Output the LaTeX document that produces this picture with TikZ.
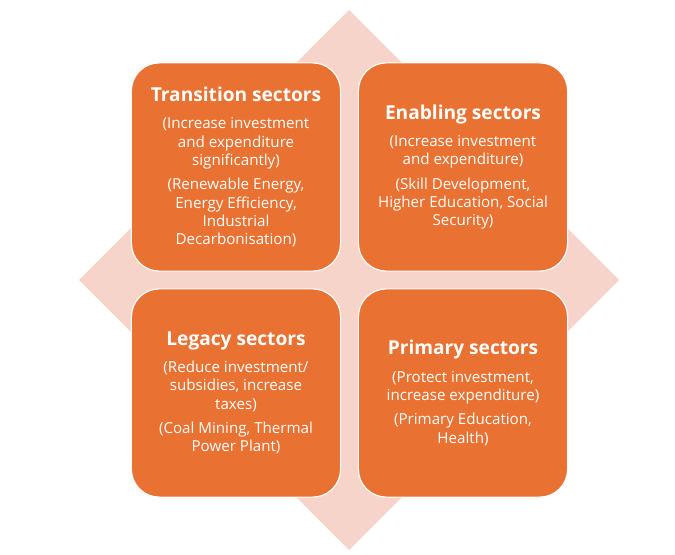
\documentclass[tikz,border=0pt]{standalone}
\usepackage{fontspec}
\setmainfont{Open Sans}
\usepackage{xcolor}
\usetikzlibrary{positioning}

\definecolor{sectororange}{HTML}{E97132}
\definecolor{diamondpink}{HTML}{F7D4C9}

\tikzset{
  sectorbox/.style={rectangle, rounded corners=28, fill=sectororange, draw=white,
    line width=1.2, minimum width=210, minimum height=209, inner sep=0pt,
    text=white, align=center, font=\fontsize{15.2}{18.4}\selectfont},
}
\newcommand{\sectortitle}[1]{{\bfseries\fontsize{19.2}{18.4}\selectfont #1}}

\begin{document}
\begin{tikzpicture}[x=1bp, y=-1bp]
    \useasboundingbox (0,0) rectangle (675,555);

    % 1. Hình thoi nền màu hồng nhạt
    \fill[diamondpink] (349,10) -- (619,280) -- (349,550) -- (79,280) -- cycle;

    % 2. Bốn ô nhóm ngành
    \node[sectorbox] (transition) at (236,167)
        {\sectortitle{Transition sectors}\\[9pt]
         (Increase investment\\ and expenditure\\ significantly)\\[6pt]
         (Renewable Energy,\\ Energy Efficiency,\\ Industrial\\ Decarbonisation)};
    \node[sectorbox] (enabling) at (463,167)
        {\sectortitle{Enabling sectors}\\[9pt]
         (Increase investment\\ and expenditure)\\[6pt]
         (Skill Development,\\ Higher Education, Social\\ Security)};
    \node[sectorbox] (legacy) at (236,393)
        {\sectortitle{Legacy sectors}\\[9pt]
         (Reduce investment/\\ subsidies, increase\\ taxes)\\[6pt]
         (Coal Mining, Thermal\\ Power Plant)};
    \node[sectorbox] (primary) at (463,393)
        {\sectortitle{Primary sectors}\\[9pt]
         (Protect investment,\\ increase expenditure)\\[6pt]
         (Primary Education,\\ Health)};

\end{tikzpicture}
\end{document}
